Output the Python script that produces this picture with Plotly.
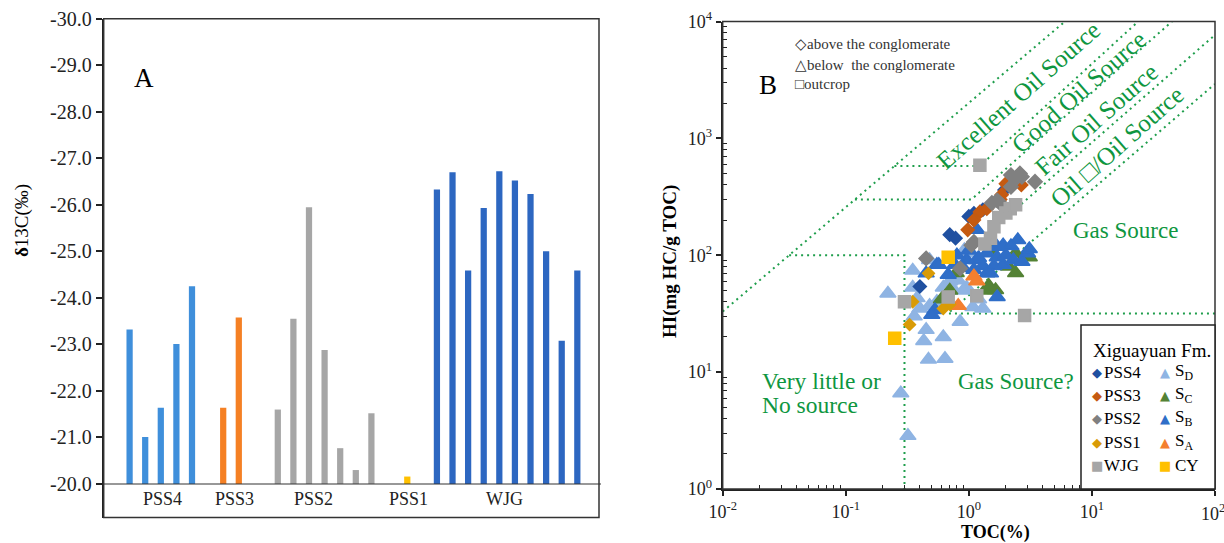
import numpy as np
import plotly.graph_objects as go

W, H = 1224, 543
SERIF = "Liberation Serif"

# ---------------- Panel A: carbon isotopes by unit ----------------
units = ["PSS4", "PSS3", "PSS2", "PSS1", "WJG"]
pss4_d13c = [-23.32, -21.01, -21.64, -23.01, -24.25]
pss3_d13c = [-21.64, -23.58]
pss2_d13c = [-21.60, -23.55, -25.95, -22.88, -20.77, -20.30, -21.52]
pss1_d13c = [-20.16]
wjg_d13c = [-26.33, -26.70, -24.59, -25.93, -26.72, -26.52, -26.23, -25.00, -23.08, -24.59]
d13c_ticks = [-30.0, -29.0, -28.0, -27.0, -26.0, -25.0, -24.0, -23.0, -22.0, -21.0, -20.0]

# ---------------- Panel B: HI vs TOC ----------------
pss4_toc = [1.95, 1.10, 1.00, 0.70, 0.78, 0.40, 1.30]
pss4_hi = [362, 228, 215, 150, 140, 54, 245]
pss3_toc = [2.00, 2.67, 1.85, 1.23, 1.10, 0.98, 1.80, 1.40, 2.30]
pss3_hi = [410, 400, 330, 235, 200, 165, 300, 250, 440]
pss2_toc = [2.70, 2.60, 2.20, 3.45, 2.20, 2.40, 1.54, 1.70, 1.10, 1.05, 0.45, 0.85, 1.85]
pss2_hi = [470, 500, 485, 425, 385, 450, 280, 295, 130, 122, 94, 77, 270]
pss1_toc = [0.47, 0.35, 0.33, 0.62, 0.70]
pss1_hi = [70, 40, 25.5, 35, 38]
wjg_toc = [1.23, 2.17, 2.00, 1.75, 1.60, 1.50, 2.40, 0.68, 1.16, 0.30, 2.84, 1.35]
wjg_hi = [590, 250, 230, 210, 175, 140, 270, 44, 45, 40, 30.5, 125]
cy_toc = [0.68, 0.25]
cy_hi = [96, 19.5]
sd_toc = [0.22, 0.35, 0.35, 0.40, 0.36, 0.48, 0.45, 0.43, 0.47, 0.62, 0.64, 0.85, 1.08, 0.96,
          0.82, 1.05, 0.28, 0.32, 0.48, 0.90, 0.73, 1.30, 0.92, 0.62, 0.55, 0.70, 0.38, 1.20]
sd_hi = [47, 74, 53, 35, 30, 37, 23, 18.5, 12.8, 20, 13, 27, 36, 53,
         61, 104, 6.6, 2.85, 91, 50, 53, 35, 111, 53, 40, 60, 43, 42]
sc_toc = [1.65, 2.40, 3.10, 1.50, 0.64, 1.40, 2.90, 2.40, 1.60, 0.79, 0.70, 1.45, 2.10, 0.60]
sc_hi = [50.5, 70.5, 96, 111, 44, 50, 100, 104, 118, 70.5, 50, 55, 80, 42]
sb_toc = [1.16, 1.70, 1.90, 2.50, 3.00, 1.40, 1.16, 0.96, 0.77, 0.55, 0.68, 1.30, 1.60, 1.90, 2.30, 1.70,
          1.70, 0.53, 0.50, 1.40, 3.10, 0.57, 0.80, 1.00, 1.20, 2.00, 2.70, 1.10, 1.50, 0.90, 2.20, 0.45]
sb_hi = [165, 118, 122, 135, 104, 104, 91, 91, 83, 83, 68, 81, 81, 83, 91, 96,
         44, 34, 31, 70, 113, 83, 100, 110, 95, 100, 88, 75, 70, 78, 120, 70]
sa_toc = [1.16, 0.82, 1.10]
sa_hi = [60, 37, 66]

# source-rating boundaries (TOC %, HI)
excellent_line = [(0.01, 33), (6.04, 10000)]
hi_levels = [100, 300, 580]
good_line_top = (23.8, 10000)
fair_line_top = (44.7, 10000)
hi300_end_toc = 1.05
hi580_end_toc = 1.23
toc_min_source = 0.3
oil_gas_line = [(2.46, 254), (100, 7670)]
gas_line = [(0.676, 31.8), (100, 2920)]


def px_x(x):
    return x / W


def px_y(y):
    return 1 - y / H


def on_line(line, hi):
    """TOC where a straight log-log boundary reaches a given HI."""
    (x0, y0), (x1, y1) = line
    lx0, ly0, lx1, ly1 = np.log10([x0, y0, x1, y1])
    return 10 ** (lx0 + (np.log10(hi) - ly0) * (lx1 - lx0) / (ly1 - ly0))


fig = go.Figure()

# ---- Panel A bars ----
BASE = -20.0
slot_start = {"PSS4": 0.0, "PSS3": 6.0, "PSS2": 9.5, "PSS1": 17.8, "WJG": 19.7}
label_pos = {"PSS4": 2.1, "PSS3": 6.7, "PSS2": 11.8, "PSS1": 17.9, "WJG": 24.0}
bar_colors = {"PSS4": "#3f8fdb", "PSS3": "#f58024", "PSS2": "#a6a6a6",
              "PSS1": "#ffc000", "WJG": "#2d67c1"}
bar_data = {"PSS4": pss4_d13c, "PSS3": pss3_d13c, "PSS2": pss2_d13c,
            "PSS1": pss1_d13c, "WJG": wjg_d13c}
for u in units:
    vals = bar_data[u]
    xs = [slot_start[u] + i for i in range(len(vals))]
    fig.add_trace(go.Bar(
        x=xs, y=[v - BASE for v in vals], base=BASE, width=0.4,
        marker=dict(color=bar_colors[u], line=dict(width=0)),
        xaxis="x", yaxis="y", showlegend=False, hoverinfo="skip"))

# ---- Panel B guide lines ----
guide_style = dict(color="#1f9e4c", width=2, dash="2px,4px")
polylines = []
polylines.append(excellent_line)
x100 = on_line(excellent_line, hi_levels[0])
polylines.append([(x100, 100), (toc_min_source, 100), (toc_min_source, 1)])
x300 = on_line(excellent_line, hi_levels[1])
polylines.append([(x300, 300), (hi300_end_toc, 300), fair_line_top])
x580 = on_line(excellent_line, hi_levels[2])
polylines.append([(x580, 580), (hi580_end_toc, 580), good_line_top])
polylines.append(oil_gas_line)
polylines.append([(100, gas_line[0][1]), gas_line[0], gas_line[1]])
for pl in polylines:
    fig.add_trace(go.Scatter(
        x=[p[0] for p in pl], y=[p[1] for p in pl], mode="lines",
        line=guide_style, xaxis="x2", yaxis="y2",
        showlegend=False, hoverinfo="skip", cliponaxis=True))

# ---- Panel B samples ----
series = [
    (sd_toc, sd_hi, "triangle-up", "#8fb4e3", 14),
    (sc_toc, sc_hi, "triangle-up", "#548235", 14),
    (sb_toc, sb_hi, "triangle-up", "#2f6ec8", 14),
    (sa_toc, sa_hi, "triangle-up", "#f47f2f", 14),
    (pss4_toc, pss4_hi, "diamond", "#2050a0", 10),
    (pss3_toc, pss3_hi, "diamond", "#c55a11", 10),
    (pss2_toc, pss2_hi, "diamond", "#808080", 11),
    (pss1_toc, pss1_hi, "diamond", "#d99b06", 9),
    (wjg_toc, wjg_hi, "square", "#a6a6a6", 12),
    (cy_toc, cy_hi, "square", "#ffc000", 12),
]
for xs, ys, sym, col, size in series:
    fig.add_trace(go.Scatter(
        x=xs, y=ys, mode="markers",
        marker=dict(symbol=sym, color=col, size=size, line=dict(color=col, width=1.5)),
        xaxis="x2", yaxis="y2", showlegend=False, hoverinfo="skip"))

annotations = []


def text(x, y, s, size, color="black", xanchor="center", yanchor="middle",
         angle=0, family=SERIF):
    annotations.append(dict(
        x=px_x(x), y=px_y(y), xref="paper", yref="paper", text=s, showarrow=False,
        xanchor=xanchor, yanchor=yanchor, textangle=angle,
        font=dict(family=family, size=size, color=color)))


# Panel A labels
for u in units:
    annotations.append(dict(
        x=label_pos[u], y=-19.667, xref="x", yref="y", text=u, showarrow=False,
        xanchor="center", yanchor="middle",
        font=dict(family=SERIF, size=18, color="#222222")))
text(143.5, 77.8, "A", 27)
text(22, 221, "<b>δ</b>13C(‰)", 19, angle=-90)

# Panel B labels
text(767.6, 84.5, "B", 27)
text(793, 44.3, "◇above the conglomerate", 15, color="#333333", xanchor="left")
text(793, 64.7, "△below  the conglomerate", 15, color="#333333", xanchor="left")
text(793, 84.1, "□outcrop", 15, color="#333333", xanchor="left")
text(670, 262, "<b>HI(mg HC/g TOC)</b>", 19, angle=-90)
text(995.8, 532.5, "<b>TOC(%)</b>", 18)
# last decade label on the TOC axis sits right at the page edge
text(1213, 512, "10<sup>2</sup>", 18, color="#222222")

GREEN = "#0e9640"
text(1018, 95, "Excellent Oil Source", 25, GREEN, angle=-41.5)
text(1078, 92, "Good Oil Source", 25, GREEN, angle=-41.5)
text(1096, 119, "Fair Oil Source", 25, GREEN, angle=-41.5)
text(1117, 146.5, "Oil □/Oil Source", 25, GREEN, angle=-41.5)
text(1125, 230, "Gas Source", 23, GREEN)
text(1016, 381, "Gas Source?", 23, GREEN)
text(760, 381, "Very little or", 23.5, GREEN, xanchor="left")
text(760, 405, "No source", 23.5, GREEN, xanchor="left")

# Legend box content
text(1091, 350, "Xiguayuan Fm.", 19, xanchor="left")
legend_rows = [372, 395, 418.3, 442, 465]
col1 = [("◆", "#2050a0", "PSS4"), ("◆", "#c55a11", "PSS3"), ("◆", "#808080", "PSS2"),
        ("◆", "#d99b06", "PSS1"), ("■", "#a6a6a6", "WJG")]
col2 = [("▲", "#8fb4e3", "S<sub>D</sub>"), ("▲", "#548235", "S<sub>C</sub>"),
        ("▲", "#2f6ec8", "S<sub>B</sub>"), ("▲", "#f47f2f", "S<sub>A</sub>"),
        ("■", "#ffc000", "CY")]
for y, (g, c, lab) in zip(legend_rows, col1):
    text(1096.7, y, g, 13, c, family="DejaVu Sans")
    text(1102, y, lab, 17, xanchor="left")
for y, (g, c, lab) in zip(legend_rows, col2):
    text(1165, y, g, 13, c, family="DejaVu Sans")
    text(1172.5, y, lab, 17, xanchor="left")

# Frames and reference lines
shapes = [
    dict(type="rect", xref="x domain", yref="y domain", x0=0, x1=1, y0=0, y1=1,
         line=dict(color="#333333", width=1.5), layer="above"),
    dict(type="line", xref="x domain", yref="y", x0=0, x1=1.004, y0=BASE, y1=BASE,
         line=dict(color="#333333", width=1.2), layer="above"),
    dict(type="rect", xref="x2 domain", yref="y2 domain", x0=0, x1=1, y0=0, y1=1,
         line=dict(color="#333333", width=1.5), layer="above"),
    dict(type="rect", xref="paper", yref="paper",
         x0=px_x(1081), x1=px_x(1215), y0=px_y(489), y1=px_y(325),
         fillcolor="white", line=dict(color="#222222", width=1.5), layer="above"),
]

minor_vals = [k * 10.0 ** e for e in range(-2, 2) for k in range(2, 10)]
minor_vals_y = [k * 10.0 ** e for e in range(0, 4) for k in range(2, 10)]
pow_text_x = ["10<sup>-2</sup>", "10<sup>-1</sup>", "10<sup>0</sup>", "10<sup>1</sup>", ""]
pow_text_y = ["10<sup>0</sup>", "10<sup>1</sup>", "10<sup>2</sup>", "10<sup>3</sup>", "10<sup>4</sup>"]

fig.update_layout(
    width=W, height=H,
    margin=dict(l=0, r=0, t=0, b=0, autoexpand=False),
    paper_bgcolor="white", plot_bgcolor="white",
    barmode="overlay",
    showlegend=False,
    xaxis=dict(domain=[px_x(103.7), px_x(599)], range=[-1.66, 30.09],
               showticklabels=False, ticks="", showgrid=False, zeroline=False,
               showline=False, anchor="y", automargin=False),
    yaxis=dict(domain=[px_y(517.5), px_y(18.7)], range=[-19.28, -30.0],
               tickmode="array", tickvals=d13c_ticks,
               ticktext=[f"{v:.1f}" for v in d13c_ticks],
               ticks="outside", ticklen=6, tickwidth=1.5, tickcolor="#222222",
               showline=True, linewidth=2, linecolor="#222222",
               showgrid=False, zeroline=False, anchor="x", automargin=False,
               tickfont=dict(family=SERIF, size=20, color="#222222")),
    xaxis2=dict(domain=[px_x(722.7), px_x(1215)], type="log", range=[-2, 2.0004],
                tickmode="array", tickvals=[0.01, 0.1, 1, 10, 100], ticktext=pow_text_x,
                ticks="outside", ticklen=5, tickwidth=1.5, tickcolor="#222222",
                minor=dict(tickmode="array", tickvals=minor_vals, ticks="inside",
                           ticklen=4, tickwidth=1, tickcolor="#222222", showgrid=False),
                showline=True, linewidth=2, linecolor="#222222",
                showgrid=False, zeroline=False, anchor="y2", automargin=False,
                tickfont=dict(family=SERIF, size=18, color="#222222")),
    yaxis2=dict(domain=[px_y(489), px_y(21.5)], type="log", range=[0, 4],
                tickmode="array", tickvals=[1, 10, 100, 1000, 10000], ticktext=pow_text_y,
                ticks="outside", ticklen=5, tickwidth=1.5, tickcolor="#222222",
                minor=dict(tickmode="array", tickvals=minor_vals_y, ticks="inside",
                           ticklen=4, tickwidth=1, tickcolor="#222222", showgrid=False),
                showline=True, linewidth=2, linecolor="#222222",
                showgrid=False, zeroline=False, anchor="x2", automargin=False,
                tickfont=dict(family=SERIF, size=18, color="#222222")),
    annotations=annotations,
    shapes=shapes,
)

fig.write_html("out.html", config={"displayModeBar": False})
